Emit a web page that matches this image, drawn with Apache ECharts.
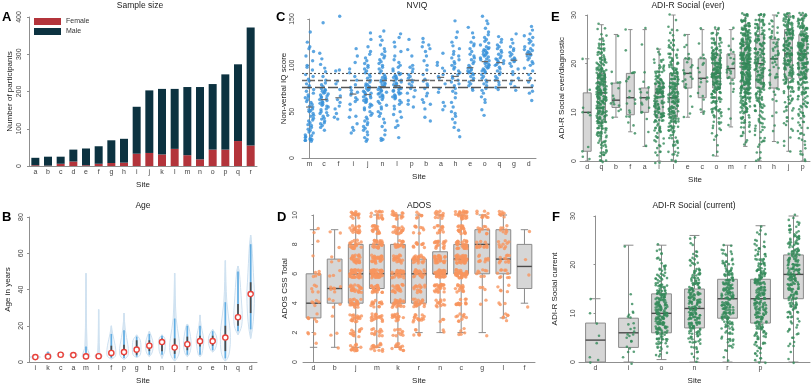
<!DOCTYPE html>
<html>
<head>
<meta charset="utf-8">
<script src="https://cdn.jsdelivr.net/npm/echarts@6/dist/echarts.min.js"></script>
<style>
html, body { margin: 0; padding: 0; background: #fff; }
#main { width: 812px; height: 386px; }
</style>
</head>
<body>
<div id="main"></div>
<script>
// ---- A: sample size ----
var sizeSites = ['a','b','c','d','e','f','g','h','i','j','k','l','m','n','o','p','q','r'];
var sizeFemale = [2, 1, 6, 12, 2, 6, 8, 9, 33, 35, 31, 46, 29, 18, 44, 44, 67, 55];
var sizeMale = [20, 24, 19, 32, 45, 47, 61, 64, 126, 168, 176, 161, 183, 194, 176, 202, 206, 317];

// ---- B: age (years) ----
var ageSites = ['i','k','c','a','m','l','f','p','g','b','n','j','r','o','e','h','q','d'];
var ageMin  = [2, 1.5, 3, 2.5, 1.5, 2, 1.5, 1.5, 2.5, 3, 2, 0.5, 3, 3, 5.5, 0.5, 15, 13];
var ageP5   = [2.2, 1.8, 3.2, 2.8, 2, 2.4, 2.2, 2.2, 3, 4, 4, 2, 4, 4, 6.5, 2, 17, 18];
var ageQ1   = [2.4, 2.5, 3.6, 3.4, 2.6, 2.8, 3, 3.5, 4, 6, 6, 4.5, 6.5, 8.5, 9, 6, 20, 27];
var ageMed  = [2.7, 3, 4, 3.8, 3.1, 3.2, 5, 5.5, 6.8, 9, 11, 8, 9.8, 11.5, 11.5, 13.5, 24.7, 37.5];
var ageQ3   = [3, 3.6, 4.6, 4.3, 4.5, 3.8, 9, 9.5, 12, 12, 13, 13, 14, 14.5, 14.5, 20, 32, 44];
var ageP95  = [3.2, 5.5, 5, 4.8, 8.5, 4.5, 15.5, 17.5, 14, 15.5, 14.5, 24, 20, 20, 17, 33, 50, 65];
var ageMax  = [3.5, 6, 5.5, 5, 49, 29, 20, 27, 15, 17, 15, 49, 21, 26, 18, 56, 53, 70];
var ageDensity = [0.42, 0.3, 0.3, 0.34, 0.3, 0.3, 0.36, 0.36, 0.34, 0.3, 0.26, 0.4, 0.3, 0.3, 0.34, 0.4, 0.34, 0.3];

// ---- C: NVIQ ----
var iqSites = ['m','c','f','i','j','n','l','p','b','a','h','e','o','q','g','d'];
var iqValues = [
  [18,19,19,20,20,21,22,23,24,25,27,28,30,31,33,35,36,38,40,41,43,45,46,48,50,51,52,53,55,56,58,60,61,63,65,66,68,70,72,74,76,78,80,83,85,88,90,95,98,100,105,110,115,118,120,125,136],
  [30,33,35,37,38,40,42,43,45,46,48,49,50,52,53,55,56,57,58,59,60,61,62,63,64,65,66,67,68,69,70,71,72,73,74,75,77,79,81,84,88,93,97,101,107,113,146],
  [42,44,48,53,56,60,63,67,74,80,83,94,95,153],
  [27,30,33,37,44,45,52,58,61,63,65,68,70,71,73,76,79,84,88,92,96,103,110,118],
  [18,20,22,25,28,30,32,34,36,38,40,42,44,46,48,50,52,54,55,57,58,60,61,62,63,64,65,66,67,68,69,70,71,72,73,74,75,76,77,78,79,80,82,84,86,88,90,92,94,96,98,100,102,105,108,112,115,120,128,135],
  [19,20,21,25,30,34,38,42,45,48,50,53,55,57,59,61,63,65,66,67,68,69,70,71,72,73,74,75,76,77,78,79,80,81,82,83,84,85,86,87,88,90,92,94,96,98,100,102,104,106,108,110,112,115,118,122,127,131,137],
  [22,33,35,40,44,47,50,53,56,58,60,62,64,65,66,67,68,69,70,71,72,73,74,75,76,77,78,79,80,81,82,83,84,85,86,87,88,89,90,91,92,94,96,98,100,103,106,110,115,120,125,130,134],
  [55,58,62,66,70,73,75,78,80,82,84,86,88,90,93,96,98,100,110,117,128],
  [40,44,53,58,60,63,67,70,75,78,80,83,85,90,95,100,105,110,115,118,120,122,125,129],
  [52,56,60,71,75,80,86,88,90,94,97,100,103,113],
  [23,30,33,38,42,45,48,50,55,60,65,70,72,75,78,80,82,84,86,88,90,92,94,96,98,100,102,104,106,108,110,112,115,118,121,125,130,136,148],
  [73,75,78,80,82,84,86,88,90,91,92,93,94,95,96,97,98,100,102,104,106,108,110,112,115,118,121,123,125,130,135,141],
  [46,52,60,63,66,70,73,75,78,80,82,84,86,88,90,92,93,94,95,96,97,98,99,100,101,102,103,104,105,106,107,108,109,110,111,112,113,114,115,116,117,118,119,120,122,124,126,128,130,133,136,140,145,148,153],
  [74,76,79,82,84,86,88,90,92,94,96,98,100,101,102,103,104,105,106,107,108,110,112,114,116,118,120,122,125,128,131],
  [73,77,80,83,86,90,93,96,99,102,104,105,106,107,108,110,112,114,116,118,120,124,128,134],
  [62,70,72,78,82,86,90,94,97,100,102,104,106,108,110,111,112,113,114,115,116,117,118,120,122,124,126,128,130,132,134,138,142]
];
var iqRefLines = [91, 83.5, 76.5];

// ---- D: ADOS CSS total (counts per score 0..10) ----
var adosSites = ['d','b','j','m','k','r','n','c','g','l','f'];
var adosBox = [[1,3,4,6,9],[1,4,5,7,9],[1,4,6,8,10],[1,5,6,8,10],[1,4,6,8,10],[2,4,6,7,10],[2,6,6,7.5,10],[2,6,7,8,10],[2,6,8,9,10],[3,6,7,9,10],[4,5,6.5,8,9]];
var adosCounts = [
  [0,1,3,6,5,5,6,1,1,2,0],
  [0,1,2,1,4,6,3,3,1,2,0],
  [0,15,12,18,25,25,35,25,20,18,15],
  [0,15,12,18,15,25,45,30,25,18,15],
  [0,12,10,15,25,20,30,20,20,18,15],
  [0,0,6,15,20,15,25,25,10,8,6],
  [0,0,2,3,12,25,45,30,18,12,12],
  [0,0,5,10,15,15,40,40,30,20,25],
  [0,0,1,0,2,3,8,10,14,10,10],
  [0,0,0,6,3,5,10,12,10,8,8],
  [0,0,0,0,1,0,1,1,0,1,0]
];

// ---- E: ADI-R social ever (counts per score 0..30) ----
var everSites = ['d','q','b','f','a','i','l','e','c','o','m','r','n','h','j','p'];
var everBox = [[0,2,10,14,21],[0,8,14,18,28],[9,11,12.5,16,26],[6,9.5,13,18,27],[3,10,13,15,27],[0,9,14,16,23],[0,9,13,18,30],[9,15,18,21,26],[10,13,17,21,27],[1,15,18,22,27],[7,17,19,22,27],[3,15,20,24,30],[0,15,20,26,30],[4,15,21,25,30],[2,17,22,27,30],[0,17,22,26,30]];
var everCounts = [
  [1,1,1,1,0,0,0,0,0,1,2,1,0,0,0,1,0,0,0,0,0,1,0,0,0,0,0,0,0,0,0],
  [4,4,5,5,6,7,8,10,12,12,13,14,15,15,16,16,15,14,13,11,10,8,7,6,5,3,2,2,1,0,0],
  [0,0,0,0,0,0,0,0,0,1,1,2,3,2,0,1,3,0,1,0,0,0,0,0,0,0,1,0,0,0,0],
  [0,0,0,0,0,0,1,1,1,2,2,0,2,2,1,0,1,2,3,0,0,0,0,1,0,0,0,1,0,0,0],
  [0,0,0,1,0,0,1,0,0,1,2,1,2,4,2,2,1,0,1,0,0,0,0,0,1,0,0,1,0,0,0],
  [2,1,3,3,3,4,5,6,8,10,10,10,11,12,13,13,11,9,7,5,4,3,2,1,0,0,0,0,0,0,0],
  [3,3,3,4,4,5,6,8,9,10,11,12,12,12,12,11,11,10,9,8,7,6,5,5,4,3,2,2,1,1,1],
  [0,0,0,0,0,0,0,0,0,1,1,1,0,1,0,2,2,3,3,2,2,3,1,1,1,0,1,0,0,0,0],
  [0,0,0,0,0,0,0,0,0,0,2,1,0,2,1,1,2,2,1,1,2,2,1,0,1,0,0,1,0,0,0],
  [0,1,1,1,1,2,2,3,4,5,6,7,8,9,11,13,15,16,17,16,15,14,12,10,8,6,4,3,0,0,0],
  [0,0,0,0,0,0,0,1,0,1,0,1,0,0,1,1,2,3,3,3,2,2,2,1,1,1,0,1,0,0,0],
  [0,0,0,1,2,2,3,4,5,6,8,9,11,13,15,17,18,19,20,21,21,21,20,19,18,16,14,12,10,8,6],
  [2,1,2,2,3,3,3,4,4,5,5,6,6,7,7,8,8,9,9,10,10,10,10,9,9,9,8,8,7,7,6],
  [0,0,0,0,1,0,1,1,0,1,1,0,1,1,2,3,2,3,3,3,3,4,4,4,4,4,3,3,2,2,2],
  [0,0,1,1,1,1,1,2,2,3,3,3,4,5,5,6,7,8,9,10,10,11,11,11,11,11,11,10,10,9,10],
  [2,2,1,2,2,2,3,3,3,4,4,5,5,6,7,8,9,10,12,13,14,14,15,15,14,13,12,11,9,8,7]
];

// ---- F: ADI-R social current (counts per score 0..30) ----
var currSites = ['d','i','o','n','r','p',''];
var currBox = [[0,0,4.5,8,13],[0,3,6,9,24],[0.5,6,10,14,24],[0,7,11,15,26],[0,9,13,17,24],[0,8,13,17,28],[0,13,18,22,30]];
var currCounts = [
  [2,1,0,0,1,1,0,0,1,0,1,0,0,1,0,0,0,0,0,0,0,0,0,0,0,0,0,0,0,0,0],
  [1,1,2,2,2,2,3,2,2,2,3,0,1,0,1,0,0,0,0,0,0,0,0,0,1,0,0,0,0,0,0],
  [0,2,3,5,7,10,13,15,17,18,18,17,16,14,13,11,9,8,6,5,4,3,2,2,1,0,0,0,0,0,0],
  [1,2,3,4,6,8,10,12,13,14,15,15,15,14,13,12,10,9,8,6,5,4,3,2,2,1,1,0,0,0,0],
  [1,1,2,3,4,5,6,8,10,12,13,14,15,15,15,14,13,12,10,8,6,5,4,3,2,0,0,0,0,0,0],
  [3,3,4,5,6,7,8,10,11,12,13,14,15,15,15,14,13,12,11,10,8,7,6,5,4,3,2,2,1,0,0],
  [1,1,1,2,2,2,3,3,4,5,6,7,8,9,10,11,12,13,13,13,12,12,11,10,9,8,7,6,4,3,2]
];

var FONT = '"Liberation Sans", Arial, sans-serif';
var AXIS_COLOR = '#8f8f8f';

// deterministic jitter offsets in [-0.5, 0.5), quadratic sequences so sorted values don't line up
function frac(v) { return v - Math.floor(v); }
function jx(k) { return frac(0.5 * k * k * 0.6180339887 + k * 0.4142135624) - 0.5; }
function jy(k) { return frac(0.5 * k * k * 0.7548776662 + k * 0.2360679775 + 0.37) - 0.5; }

function countsToPoints(counts, xSpread, ySpread) {
  var pts = [], k = 0;
  counts.forEach(function (row, i) {
    row.forEach(function (n, score) {
      for (var t = 0; t < n; t++) {
        k++;
        pts.push([i + jx(k) * 2 * xSpread, score + jy(k) * 2 * ySpread]);
      }
    });
  });
  return pts;
}

function valuesToPoints(lists, xSpread) {
  var pts = [], k = 0;
  lists.forEach(function (vals, i) {
    vals.forEach(function (v) {
      k++;
      pts.push([i + jx(k) * 2 * xSpread, v]);
    });
  });
  return pts;
}

function median(arr) {
  var s = arr.slice().sort(function (a, b) { return a - b; });
  var m = Math.floor(s.length / 2);
  return s.length % 2 ? s[m] : (s[m - 1] + s[m]) / 2;
}

function boxRows(box) {
  return box.map(function (b, i) { return [i].concat(b); });
}

function makeBoxRender(boxFrac, capFrac) {
  return function (params, api) {
    var i = api.value(0);
    var band = api.size([1, 0])[0];
    var bw = band * boxFrac, cw = band * capFrac;
    var lo = api.coord([i, api.value(1)]);
    var q1 = api.coord([i, api.value(2)]);
    var md = api.coord([i, api.value(3)]);
    var q3 = api.coord([i, api.value(4)]);
    var hi = api.coord([i, api.value(5)]);
    var x = lo[0];
    var ln = { stroke: '#8a8a8a', lineWidth: 1 };
    return {
      type: 'group',
      children: [
        { type: 'line', shape: { x1: x, y1: lo[1], x2: x, y2: q1[1] }, style: ln },
        { type: 'line', shape: { x1: x, y1: q3[1], x2: x, y2: hi[1] }, style: ln },
        { type: 'line', shape: { x1: x - cw / 2, y1: lo[1], x2: x + cw / 2, y2: lo[1] }, style: ln },
        { type: 'line', shape: { x1: x - cw / 2, y1: hi[1], x2: x + cw / 2, y2: hi[1] }, style: ln },
        { type: 'rect', shape: { x: x - bw / 2, y: q3[1], width: bw, height: q1[1] - q3[1] },
          style: { fill: '#d6d6d6', stroke: '#8a8a8a', lineWidth: 1 } },
        { type: 'line', shape: { x1: x - bw / 2, y1: md[1], x2: x + bw / 2, y2: md[1] },
          style: { stroke: '#4a4a4a', lineWidth: 1.4 } }
      ]
    };
  };
}

function violinRender(params, api) {
  var i = api.value(0);
  var band = api.size([1, 0])[0];
  var w = band * api.value(8);
  var vals = [1, 2, 3, 4, 5, 6, 7].map(function (d) { return api.coord([i, api.value(d)]); });
  var x = vals[0][0];
  var prof = [0, 0.45, 0.85, 1, 0.85, 0.3, 0];
  var right = [], left = [];
  for (var d = 0; d < 7; d++) {
    right.push([x + w * prof[d], vals[d][1]]);
    left.unshift([x - w * prof[d], vals[d][1]]);
  }
  return {
    type: 'group',
    children: [
      { type: 'polygon', shape: { points: right.concat(left), smooth: 0.35 },
        style: { fill: 'rgba(232,240,248,0.4)', stroke: '#cde0f0', lineWidth: 1 } },
      { type: 'line', shape: { x1: x, y1: vals[0][1], x2: x, y2: vals[6][1] },
        style: { stroke: '#d0e2f1', lineWidth: 1.5 } },
      { type: 'line', shape: { x1: x, y1: vals[1][1], x2: x, y2: vals[5][1] },
        style: { stroke: '#62ade2', lineWidth: 1.7 } },
      { type: 'line', shape: { x1: x, y1: vals[2][1], x2: x, y2: vals[4][1] },
        style: { stroke: '#4d4d4d', lineWidth: 1.7 } },
      { type: 'circle', shape: { cx: x, cy: vals[3][1], r: 2.6 },
        style: { fill: '#fff', stroke: '#e8413a', lineWidth: 1.4 } }
    ]
  };
}

function medianRender(params, api) {
  var i = api.value(0);
  var band = api.size([1, 0])[0];
  var p = api.coord([i, api.value(1)]);
  return { type: 'line', shape: { x1: p[0] - band * 0.22, y1: p[1], x2: p[0] + band * 0.22, y2: p[1] },
    style: { stroke: '#6b6b6b', lineWidth: 1.2 } };
}

function catAxis(grid, sites) {
  return {
    type: 'category', gridIndex: grid, data: sites,
    name: 'Site', nameLocation: 'middle', nameGap: 15,
    nameTextStyle: { fontSize: 8, color: '#222', fontFamily: FONT },
    axisLine: { lineStyle: { color: AXIS_COLOR } },
    axisTick: { alignWithLabel: true, length: 2, lineStyle: { color: AXIS_COLOR } },
    axisLabel: { fontSize: 7, color: '#444', margin: 3, interval: 0, fontFamily: FONT }
  };
}
function valXAxis(grid, n) {
  return { type: 'value', gridIndex: grid, min: -0.5, max: n - 0.5, show: false };
}
function valYAxis(grid, name, max, interval, gap, margin) {
  return {
    type: 'value', gridIndex: grid, min: 0, max: max, interval: interval,
    name: name, nameLocation: 'middle', nameGap: gap,
    nameTextStyle: { fontSize: 8, color: '#222', fontFamily: FONT },
    axisLine: { show: true, lineStyle: { color: AXIS_COLOR } },
    axisTick: { show: true, length: 2, lineStyle: { color: AXIS_COLOR } },
    axisLabel: { fontSize: 7, color: '#444', rotate: 90, margin: margin, fontFamily: FONT },
    splitLine: { show: false }
  };
}

function textEl(x, y, text, size, bold) {
  return { type: 'text', x: x, y: y,
    style: { text: text, fontSize: size, fontWeight: bold ? 'bold' : 'normal', fontFamily: FONT,
      fill: bold ? '#000' : '#222', align: bold ? 'left' : 'center', verticalAlign: 'top' } };
}

var iqMedians = iqValues.map(function (v, i) { return [i, median(v)]; });

var chart = echarts.init(document.getElementById('main'));
chart.setOption({
  animation: false,
  grid: [
    { left: 29, top: 17, width: 228, height: 149 },
    { left: 29, top: 217, width: 228, height: 145 },
    { left: 302, top: 19, width: 234, height: 139 },
    { left: 303, top: 215, width: 232, height: 147 },
    { left: 580, top: 15, width: 230, height: 146 },
    { left: 579, top: 216, width: 231, height: 146 }
  ],
  xAxis: [
    catAxis(0, sizeSites),
    catAxis(1, ageSites),
    catAxis(2, iqSites), valXAxis(2, iqSites.length),
    catAxis(3, adosSites), valXAxis(3, adosSites.length),
    catAxis(4, everSites), valXAxis(4, everSites.length),
    catAxis(5, currSites), valXAxis(5, currSites.length)
  ],
  yAxis: [
    valYAxis(0, 'Number of participants', 400, 100, 15, 6),
    valYAxis(1, 'Age in years', 80, 20, 17, 4),
    valYAxis(2, 'Non-verbal IQ score', 150, 50, 13, 6),
    valYAxis(3, 'ADOS CSS Total', 10, 2, 14, 4),
    valYAxis(4, 'ADI-R Social ever/diagnostic', 30, 10, 14, 2),
    valYAxis(5, 'ADI-R Social current', 30, 10, 20, 2)
  ],
  legend: {
    data: ['Female', 'Male'], orient: 'vertical', left: 29, top: 13,
    icon: 'rect', itemWidth: 27, itemHeight: 7, itemGap: 3,
    textStyle: { fontSize: 7, color: '#333', fontFamily: FONT }
  },
  graphic: [
    textEl(140, 1, 'Sample size', 8.5), textEl(143, 201, 'Age', 8.5),
    textEl(417, 1, 'NVIQ', 8.5), textEl(419, 201, 'ADOS', 8.5),
    textEl(688, 1, 'ADI-R Social (ever)', 8.5), textEl(694, 201, 'ADI-R Social (current)', 8.5),
    textEl(2, 11, 'A', 13, true), textEl(2, 211, 'B', 13, true),
    textEl(276, 11, 'C', 13, true), textEl(277, 211, 'D', 13, true),
    textEl(551, 11, 'E', 13, true), textEl(552, 211, 'F', 13, true)
  ],
  series: [
    { name: 'Female', type: 'bar', stack: 'n', xAxisIndex: 0, yAxisIndex: 0, data: sizeFemale,
      barWidth: 8, itemStyle: { color: '#b3343b' } },
    { name: 'Male', type: 'bar', stack: 'n', xAxisIndex: 0, yAxisIndex: 0, data: sizeMale,
      barWidth: 8, itemStyle: { color: '#0c3240' } },

    { type: 'custom', xAxisIndex: 1, yAxisIndex: 1, renderItem: violinRender,
      encode: { x: 0, y: [1, 7] },
      data: ageSites.map(function (s, i) {
        return [i, ageMin[i], ageP5[i], ageQ1[i], ageMed[i], ageQ3[i], ageP95[i], ageMax[i], ageDensity[i]];
      }) },

    { type: 'scatter', xAxisIndex: 3, yAxisIndex: 2, symbolSize: 3.4, clip: false,
      itemStyle: { color: '#3590d9' }, data: valuesToPoints(iqValues, 0.3),
      markLine: {
        silent: true, symbol: 'none', label: { show: false }, z: 10,
        data: [
          { yAxis: iqRefLines[0], lineStyle: { type: [2, 2], color: '#555', width: 1.1 } },
          { yAxis: iqRefLines[1], lineStyle: { type: [5, 3], color: '#666', width: 1.3 } },
          { yAxis: iqRefLines[2], lineStyle: { type: [10, 3], color: '#555', width: 1.3 } }
        ]
      } },
    { type: 'custom', xAxisIndex: 2, yAxisIndex: 2, renderItem: medianRender,
      encode: { x: 0, y: 1 }, data: iqMedians, z: 5 },

    { type: 'custom', xAxisIndex: 4, yAxisIndex: 3, renderItem: makeBoxRender(0.7, 0.35),
      encode: { x: 0, y: [1, 5] }, data: boxRows(adosBox) },
    { type: 'scatter', xAxisIndex: 5, yAxisIndex: 3, symbolSize: 3.4, clip: false,
      itemStyle: { color: '#f7955e' }, data: countsToPoints(adosCounts, 0.28, 0.28) },

    { type: 'custom', xAxisIndex: 6, yAxisIndex: 4, renderItem: makeBoxRender(0.55, 0.3),
      encode: { x: 0, y: [1, 5] }, data: boxRows(everBox) },
    { type: 'scatter', xAxisIndex: 7, yAxisIndex: 4, symbolSize: 2.6, clip: false,
      itemStyle: { color: '#348a5a' }, data: countsToPoints(everCounts, 0.35, 0.42) },

    { type: 'custom', xAxisIndex: 8, yAxisIndex: 5, renderItem: makeBoxRender(0.6, 0.3),
      encode: { x: 0, y: [1, 5] }, data: boxRows(currBox) },
    { type: 'scatter', xAxisIndex: 9, yAxisIndex: 5, symbolSize: 2.6, clip: false,
      itemStyle: { color: '#348a5a' }, data: countsToPoints(currCounts, 0.18, 0.42) }
  ]
});
</script>
</body>
</html>
